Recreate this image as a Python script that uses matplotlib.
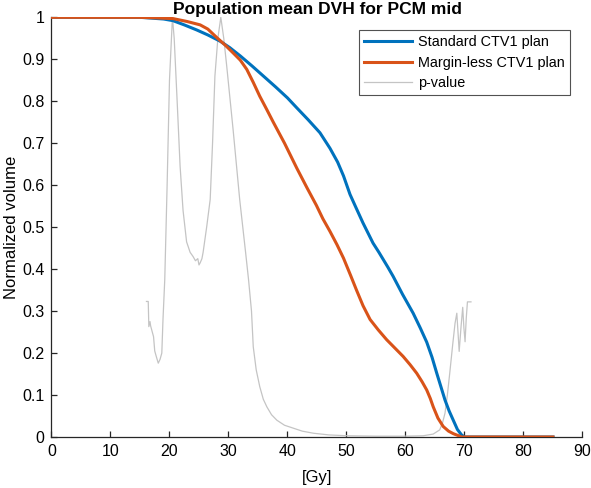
import matplotlib
matplotlib.use("Agg")
import matplotlib.pyplot as plt
import numpy as np

plt.rcParams['font.family'] = ['Liberation Sans', 'DejaVu Sans']

# Standard CTV1 plan
std_dose = [0, 15, 17, 19, 20.6, 22.5, 24.6, 26.5, 28.6, 30.2, 32, 34, 36, 38, 40, 41.6,
            43.5, 45.5, 47.2, 48.5, 49.5, 50.6, 51.5, 52.8, 54.5, 55.5, 57, 57.9, 59.5, 61.3,
            62.5, 63.6, 64.5, 65.3, 66, 66.7, 67.4, 68.1, 68.8, 69.5, 70, 85]
std_vol = [1.0, 1.0, 0.998, 0.996, 0.992, 0.982, 0.97, 0.958, 0.943, 0.928, 0.908, 0.884, 0.859,
           0.834, 0.808, 0.784, 0.756, 0.725, 0.688, 0.655, 0.622, 0.578, 0.55, 0.51, 0.462,
           0.44, 0.405, 0.383, 0.34, 0.295, 0.26, 0.226, 0.19, 0.152, 0.12, 0.088, 0.062,
           0.04, 0.018, 0.005, 0.0, 0.0]

# Margin-less CTV1 plan
ml_dose = [0, 15, 17, 20.6, 23, 25.2, 26.5, 28, 29.5, 30.8, 32, 33.1, 34.2, 35.3, 36.5, 37.6,
           39.5, 41.6, 43.3, 44.9, 46, 47.2, 48.4, 49.5, 50.7, 51.7, 52.8, 54, 55.4, 56.8, 58.2,
           59.6, 60.8, 61.9, 62.8, 63.6, 64.2, 64.7, 65.5, 66.4, 67.3, 68.1, 69, 69.5, 85]
ml_vol = [1.0, 1.0, 0.999, 0.997, 0.99, 0.982, 0.972, 0.952, 0.933, 0.915, 0.898, 0.876, 0.845,
          0.812, 0.78, 0.75, 0.70, 0.64, 0.594, 0.552, 0.52, 0.49, 0.458, 0.426, 0.385, 0.35,
          0.313, 0.28, 0.255, 0.232, 0.212, 0.192, 0.172, 0.152, 0.132, 0.112, 0.092, 0.072,
          0.045, 0.025, 0.014, 0.008, 0.003, 0.0, 0.0]

# p-value
p_dose = [16.1, 16.4, 16.5, 16.7, 16.8, 17.3, 17.5, 17.8, 18.1, 18.4, 18.7, 18.9, 19.2, 19.6,
          20.0, 20.5, 20.8, 21.3, 21.8, 22.3, 22.9, 23.5, 24.0, 24.4, 24.8, 25.0, 25.2, 25.5,
          25.7, 26.3, 26.9, 27.3, 27.7, 28.2, 28.7, 29.2, 29.7, 30.8, 31.9, 32.9, 33.4, 33.9,
          34.2, 34.7, 35.3, 35.9, 36.5, 37.3, 38.2, 39.5, 41, 42.5, 44.4, 47, 50, 55, 60, 63,
          64.7, 65.8, 66.3, 66.7, 67.1, 67.5, 68, 68.4, 68.7, 68.9, 69.1, 69.4, 69.7, 69.9,
          70.1, 70.3, 70.5, 71.1]
p_val = [0.323, 0.323, 0.263, 0.275, 0.265, 0.239, 0.205, 0.19, 0.176, 0.185, 0.2, 0.28, 0.375,
         0.6, 0.85, 1.0, 0.95, 0.8, 0.645, 0.54, 0.465, 0.44, 0.43, 0.42, 0.425, 0.41, 0.415,
         0.425, 0.44, 0.5, 0.566, 0.7, 0.86, 0.95, 1.0, 0.95, 0.884, 0.73, 0.566, 0.44, 0.375,
         0.3, 0.215, 0.16, 0.12, 0.09, 0.072, 0.053, 0.04, 0.028, 0.021, 0.014, 0.009, 0.005,
         0.003, 0.002, 0.002, 0.003, 0.007, 0.017, 0.035, 0.057, 0.1, 0.152, 0.22, 0.271,
         0.295, 0.25, 0.204, 0.26, 0.309, 0.26, 0.227, 0.283, 0.322, 0.322]

x_ticks = [0, 10, 20, 30, 40, 50, 60, 70, 80, 90]
y_ticks = [0, 0.1, 0.2, 0.3, 0.4, 0.5, 0.6, 0.7, 0.8, 0.9, 1]
y_ticklabels = ['0', '0.1', '0.2', '0.3', '0.4', '0.5', '0.6', '0.7', '0.8', '0.9', '1']

fig = plt.figure(figsize=(5.91, 4.88), dpi=100)
ax = fig.add_axes([0.0871, 0.1045, 0.8985, 0.86])

ax.plot(std_dose, std_vol, color='#0072BD', lw=2.2, label='Standard CTV1 plan', zorder=3)
ax.plot(ml_dose, ml_vol, color='#D95319', lw=2.2, label='Margin-less CTV1 plan', zorder=4)
ax.plot(p_dose, p_val, color='#c4c4c4', lw=0.9, label='p-value', zorder=2)

ax.set_xlim(0, 90)
ax.set_ylim(0, 1)
ax.set_xticks(x_ticks)
ax.set_yticks(y_ticks)
ax.set_yticklabels(y_ticklabels)
for s in ['top', 'right']:
    ax.spines[s].set_visible(False)
for s in ['left', 'bottom']:
    ax.spines[s].set_color('#262626')
    ax.spines[s].set_linewidth(0.9)
ax.tick_params(direction='in', length=4, width=0.9, colors='#262626',
               labelsize=11.5, labelcolor='black', pad=5)

ax.set_xlabel('[Gy]', fontsize=12, labelpad=8)
ax.set_ylabel('Normalized volume', fontsize=12, labelpad=2)
ax.set_title('Population mean DVH for PCM mid', fontsize=12.5, fontweight='bold', pad=0)

leg = ax.legend(loc='upper right', bbox_to_anchor=(0.976, 0.969),
                fontsize=10.4, frameon=True, fancybox=False, borderpad=0.35,
                handlelength=3.3, handletextpad=0.4, labelspacing=0.45, borderaxespad=0)
leg.get_frame().set_edgecolor('#262626')
leg.get_frame().set_linewidth(0.8)

fig.savefig('out.png', dpi=100)
